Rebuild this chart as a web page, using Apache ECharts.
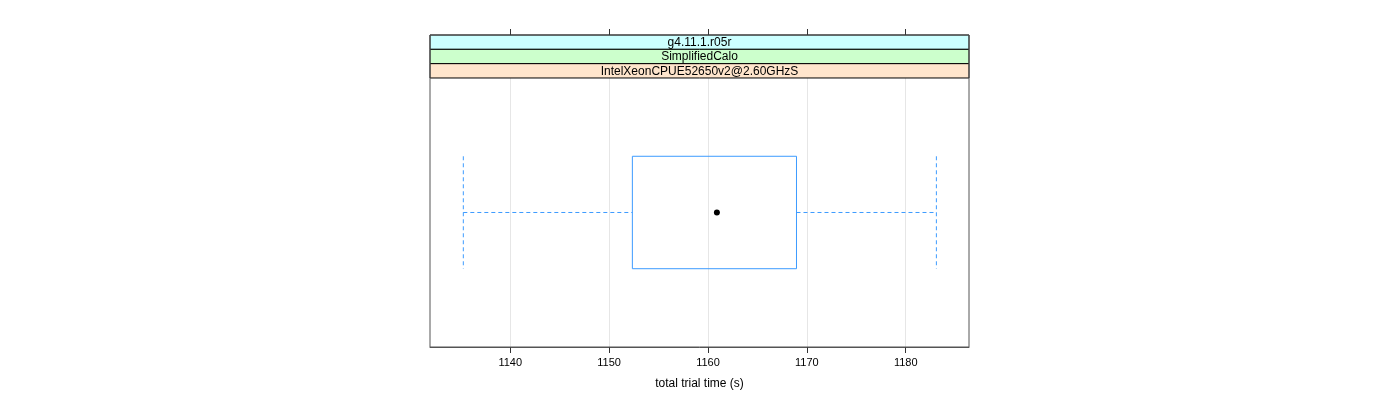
<!DOCTYPE html>
<html>
<head>
<meta charset="utf-8">
<script src="https://cdn.jsdelivr.net/npm/echarts@6/dist/echarts.min.js"></script>
<style>html,body{margin:0;padding:0;background:#fff}#c{width:1400px;height:400px}</style>
</head>
<body>
<div id="c"></div>
<script>
// ---- data ----
const categories = ['IntelXeonCPUE52650v2@2.60GHzS'];
// [low whisker, Q1, median, Q3, high whisker]
const boxStats = [[1135.25, 1152.35, 1160.9, 1168.95, 1183.1]];
const tickValues = [1140, 1150, 1160, 1170, 1180];
const stripLabels = ['g4.11.1.r05r', 'SimplifiedCalo', 'IntelXeonCPUE52650v2@2.60GHzS'];
const stripColors = ['#ccffff', '#ccffcc', '#ffe5cc'];
const xMin = 1131.88, xMax = 1186.4;
const xTitle = 'total trial time (s)';

// ---- layout ----
const L = 430, R = 969, T = 35, B = 347, stripH = 14.33;
const panelTop = T + stripH * stripLabels.length;
const FONT = '"Liberation Sans", Arial, sans-serif';
const boxColor = '#3d9bff';

const chart = echarts.init(document.getElementById('c'), null, {renderer: 'canvas'});

const graphics = [];
stripLabels.forEach((s, i) => {
  graphics.push({
    type: 'rect', z: 10,
    shape: {x: L, y: T + i * stripH, width: R - L, height: stripH},
    style: {fill: stripColors[i], stroke: '#000', lineWidth: 1}
  });
  graphics.push({
    type: 'text', z: 11,
    x: (L + R) / 2, y: T + i * stripH + stripH / 2 + 0.5,
    style: {text: s, fill: '#000', font: '12px ' + FONT, textAlign: 'center', textVerticalAlign: 'middle'}
  });
});
graphics.push({
  type: 'rect', z: 12,
  shape: {x: L, y: T, width: R - L, height: B - T},
  style: {fill: null, stroke: '#555', lineWidth: 1}
});

const seriesData = boxStats.map((b, i) => [i].concat(b));

chart.setOption({
  animation: false,
  graphic: graphics,
  grid: {left: L, top: panelTop, width: R - L, height: B - panelTop, show: false},
  xAxis: [{
    type: 'value', min: xMin, max: xMax, position: 'bottom',
    name: xTitle, nameLocation: 'middle', nameGap: 31,
    nameTextStyle: {fontSize: 12, fontFamily: FONT, color: '#000'},
    axisLine: {show: true, lineStyle: {color: '#555'}},
    axisTick: {show: true, length: 6, inside: false, customValues: tickValues, lineStyle: {color: '#333'}},
    axisLabel: {show: true, customValues: tickValues, margin: 10, fontSize: 11, fontFamily: FONT, color: '#000',
      formatter: function (v) { return String(v); }},
    splitLine: {show: true, lineStyle: {color: '#e6e6e6', width: 1}}
  }, {
    type: 'value', min: xMin, max: xMax, position: 'top', offset: panelTop - T,
    axisLine: {show: false},
    axisTick: {show: true, length: 6, inside: false, customValues: tickValues, lineStyle: {color: '#333'}},
    axisLabel: {show: false},
    splitLine: {show: false}
  }],
  yAxis: {
    type: 'category', data: categories, show: false, boundaryGap: true
  },
  series: [{
    type: 'custom',
    xAxisIndex: 0, yAxisIndex: 0,
    data: seriesData,
    encode: {y: 0, x: [1, 2, 3, 4, 5]},
    renderItem: function (params, api) {
      const cat = api.value(0);
      const low = api.coord([api.value(1), cat]);
      const q1 = api.coord([api.value(2), cat]);
      const med = api.coord([api.value(3), cat]);
      const q3 = api.coord([api.value(4), cat]);
      const high = api.coord([api.value(5), cat]);
      const band = api.size([0, 1])[1];
      const h = band * 0.418;
      const cy = low[1];
      const dash = {stroke: boxColor, lineWidth: 1, lineDash: [4, 3], fill: null};
      return {
        type: 'group',
        children: [
          {type: 'line', shape: {x1: low[0], y1: cy, x2: q1[0], y2: cy}, style: dash},
          {type: 'line', shape: {x1: q3[0], y1: cy, x2: high[0], y2: cy}, style: dash},
          {type: 'line', shape: {x1: low[0], y1: cy - h / 2, x2: low[0], y2: cy + h / 2}, style: dash},
          {type: 'line', shape: {x1: high[0], y1: cy - h / 2, x2: high[0], y2: cy + h / 2}, style: dash},
          {type: 'rect', shape: {x: q1[0], y: cy - h / 2, width: q3[0] - q1[0], height: h},
            style: {stroke: boxColor, lineWidth: 1, fill: null}},
          {type: 'circle', shape: {cx: med[0], cy: cy, r: 3}, style: {fill: '#000'}}
        ]
      };
    }
  }]
});
</script>
</body>
</html>
